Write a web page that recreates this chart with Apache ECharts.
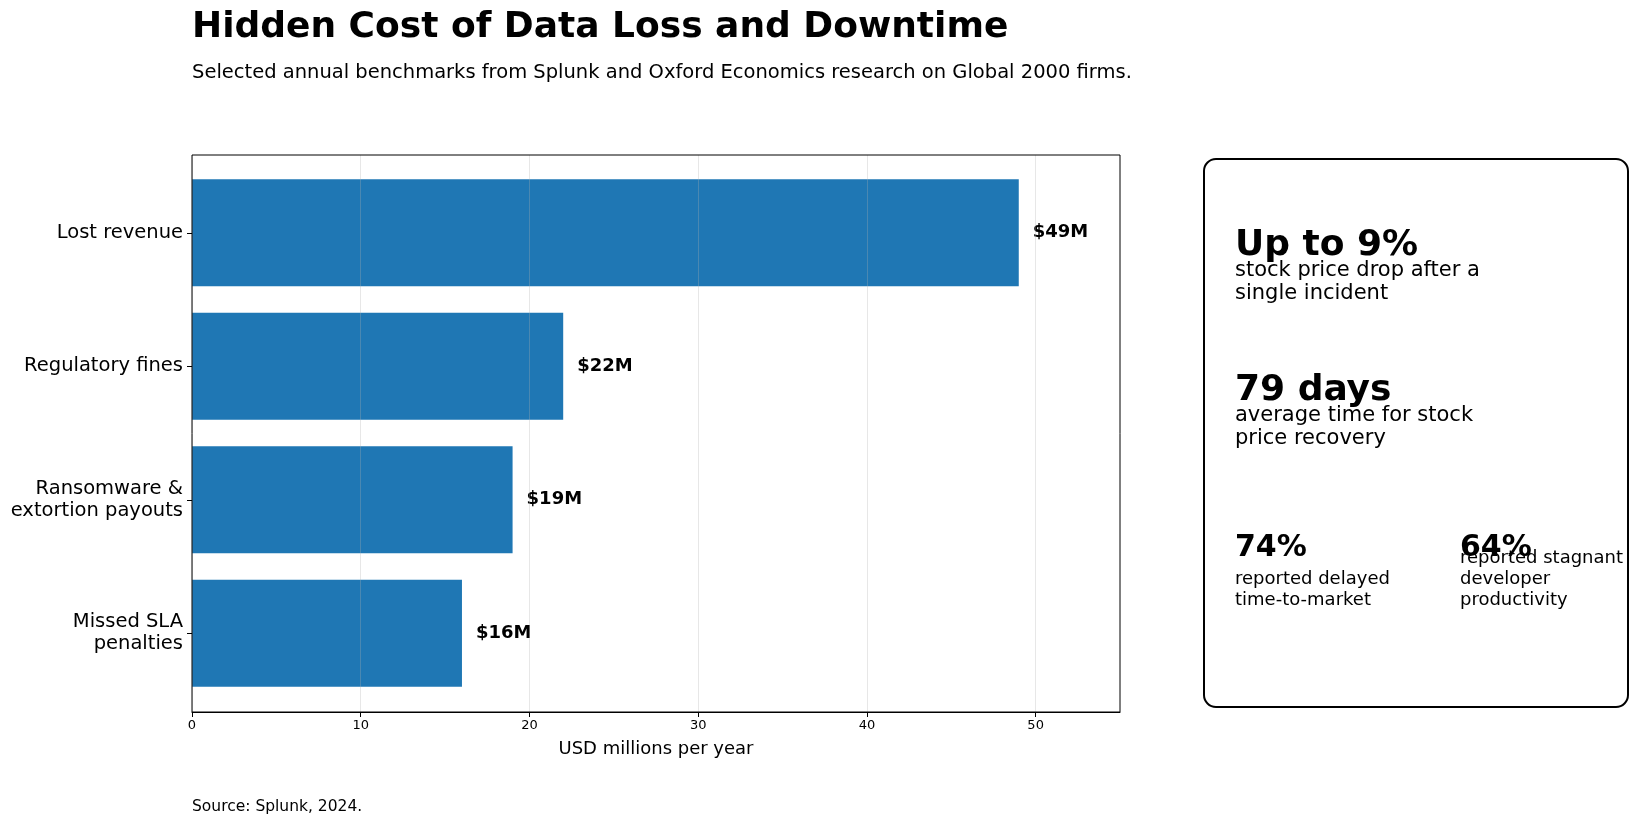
<!DOCTYPE html>
<html>
<head>
<meta charset="utf-8">
<script src="https://cdn.jsdelivr.net/npm/echarts@6/dist/echarts.min.js"></script>
<style>
  html, body { margin: 0; padding: 0; background: #fff; }
  #chart { width: 1641px; height: 824px; }
</style>
</head>
<body>
<div id="chart"></div>
<script>
const categories = ['Lost revenue', 'Regulatory fines', 'Ransomware &\nextortion payouts', 'Missed SLA\npenalties']
const costs = [49, 22, 19, 16]
const xTicks = [0, 10, 20, 30, 40, 50]

const font = 'DejaVu Sans'
const myChart = echarts.init(document.getElementById('chart'))

// right-hand stat card
const cardLeft = 1204, cardTop = 159, cardW = 424, cardH = 548
const tx = 1235
function txt(x, y, text, size, bold, lh) {
  return {
    type: 'text', x: x, y: y, z: 10,
    style: {
      text: text, fill: '#000', font: (bold ? 'bold ' : '') + size + 'px "' + font + '"',
      verticalAlign: 'middle', align: 'left', lineHeight: lh || size * 1.15
    }
  }
}

const option = {
  animation: false,
  backgroundColor: '#fff',
  textStyle: { fontFamily: font },
  grid: [
    // outer frame with the x axis
    {
      left: 192, top: 155, right: 521, bottom: 112,
      show: true, borderColor: '#000', borderWidth: 1, backgroundColor: 'transparent', z: 4
    },
    // inner band for the bars (matplotlib-style margin above and below)
    { left: 192, top: 166, right: 521, bottom: 124 }
  ],
  xAxis: [
    {
      gridIndex: 0, type: 'value', min: 0, max: 55, interval: 10, z: 3,
      name: 'USD millions per year', nameLocation: 'middle', nameGap: 28,
      nameTextStyle: { fontSize: 18, color: '#000', fontFamily: font },
      axisLine: { show: true, lineStyle: { color: '#000', width: 1 } },
      axisTick: { show: true, length: 5, lineStyle: { color: '#000' }, customValues: xTicks },
      axisLabel: { fontSize: 13, color: '#000', margin: 7, fontFamily: font, customValues: xTicks },
      splitLine: { show: true, lineStyle: { color: 'rgba(176,176,176,0.3)', width: 1 } }
    },
    { gridIndex: 1, type: 'value', min: 0, max: 55, show: false }
  ],
  yAxis: [
    {
      gridIndex: 0, type: 'value', min: 0, max: 1,
      axisLine: { show: false }, axisTick: { show: false }, axisLabel: { show: false },
      splitLine: { show: false }
    },
    {
      gridIndex: 1, type: 'category', data: categories, inverse: true,
      axisLine: { show: false },
      axisTick: { show: true, alignWithLabel: true, length: 5, lineStyle: { color: '#000' } },
      axisLabel: { fontSize: 19.5, color: '#000', margin: 9, align: 'right', lineHeight: 22, fontFamily: font },
      splitLine: { show: false }
    }
  ],
  series: [{
    type: 'bar',
    xAxisIndex: 1,
    yAxisIndex: 1,
    data: costs,
    barCategoryGap: '20%',
    itemStyle: { color: '#1f77b4' },
    label: {
      show: true, position: 'right', distance: 14,
      formatter: p => '$' + p.value + 'M',
      fontSize: 18, fontWeight: 'bold', color: '#000', fontFamily: font
    }
  }],
  graphic: [
    txt(192, 28, 'Hidden Cost of Data Loss and Downtime', 36, true),
    txt(192, 73, 'Selected annual benchmarks from Splunk and Oxford Economics research on Global 2000 firms.', 19.5, false),
    txt(192, 807, 'Source: Splunk, 2024.', 15.5, false),
    {
      type: 'rect', z: 5,
      shape: { x: cardLeft, y: cardTop, width: cardW, height: cardH, r: 12 },
      style: { fill: '#fff', stroke: '#000', lineWidth: 2 }
    },
    txt(tx, 246, 'Up to 9%', 36, true),
    txt(tx, 282, 'stock price drop after a\nsingle incident', 21, false, 23),
    txt(tx, 391, '79 days', 36, true),
    txt(tx, 427, 'average time for stock\nprice recovery', 21, false, 23),
    txt(tx, 548, '74%', 30, true),
    txt(tx, 590, 'reported delayed\ntime-to-market', 18, false, 21),
    txt(1460, 548, '64%', 30, true),
    txt(1460, 579, 'reported stagnant\ndeveloper\nproductivity', 18, false, 21)
  ]
}

option && myChart.setOption(option)
</script>
</body>
</html>
